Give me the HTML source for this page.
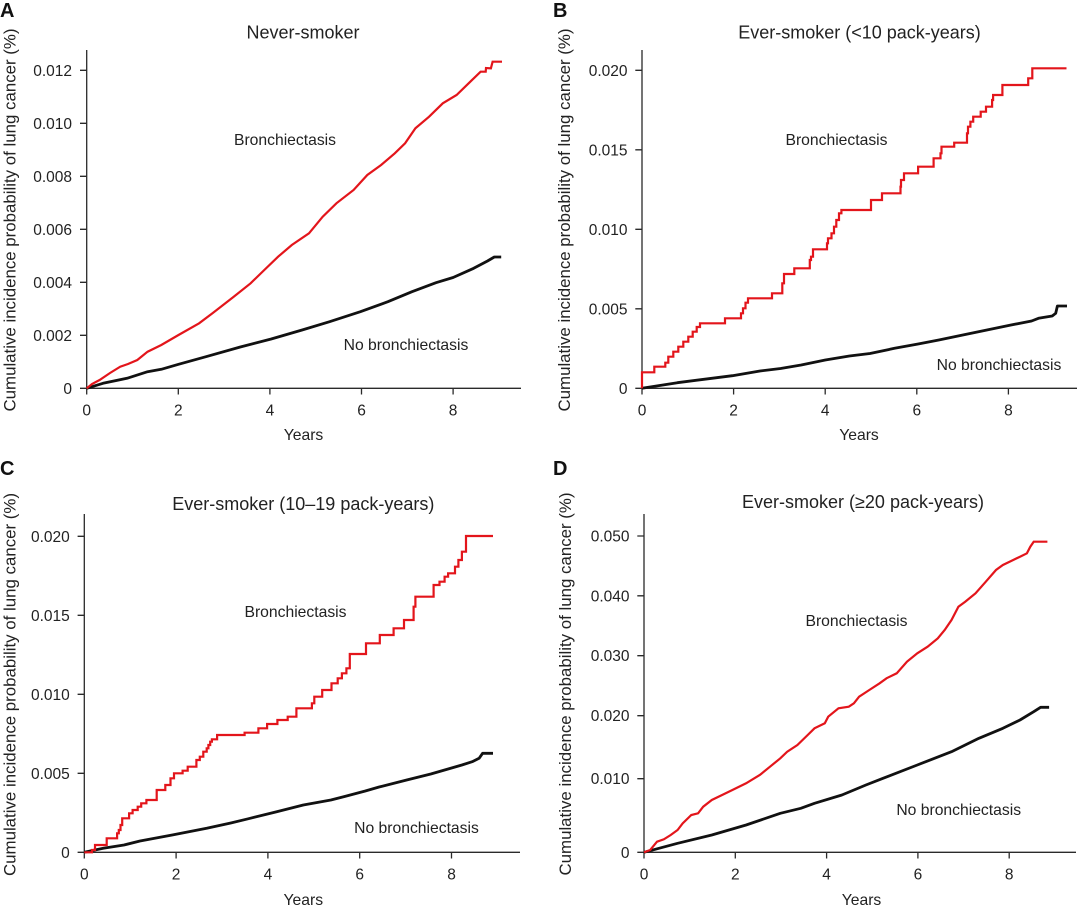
<!DOCTYPE html>
<html>
<head>
<meta charset="utf-8">
<style>
  html, body { margin: 0; padding: 0; background: #ffffff; }
  svg { display: block; }
  text { font-family: "Liberation Sans", "DejaVu Sans", sans-serif; fill: #222; }
  .tick { font-size: 15.5px; }
  .ttl { font-size: 18px; }
  .lab { font-size: 15.7px; }
  .ylab { font-size: 16.8px; }
  .pl { font-size: 20px; font-weight: bold; fill: #111; }
  .ax { stroke: #2a2a2a; stroke-width: 1.3; fill: none; }
  .red { stroke: #e3151b; stroke-width: 2.2; fill: none; stroke-linejoin: miter; }
  .blk { stroke: #111; stroke-width: 2.8; fill: none; stroke-linejoin: round; }
</style>
</head>
<body>
<svg width="1080" height="906" viewBox="0 0 1080 906" xmlns="http://www.w3.org/2000/svg">

<!-- ================= Panel A ================= -->
<text class="pl" x="0" y="17">A</text>
<text class="ttl" x="303" y="38.5" text-anchor="middle">Never-smoker</text>
<text class="ylab" transform="translate(15.5,220) rotate(-90)" text-anchor="middle" textLength="383" lengthAdjust="spacingAndGlyphs">Cumulative incidence probability of lung cancer (%)</text>
<path class="ax" d="M86.7,50 V388.3 H521"/>
<path class="ax" d="M80,388.3 H86.7 M80,335.3 H86.7 M80,282.3 H86.7 M80,229.3 H86.7 M80,176.3 H86.7 M80,123.3 H86.7 M80,70.3 H86.7"/>
<path class="ax" d="M86.7,388.3 V394.5 M178.3,388.3 V394.5 M269.9,388.3 V394.5 M361.5,388.3 V394.5 M453.1,388.3 V394.5"/>
<g class="tick" text-anchor="end">
  <text x="72" y="393.8">0</text>
  <text x="72" y="340.8">0.002</text>
  <text x="72" y="287.8">0.004</text>
  <text x="72" y="234.8">0.006</text>
  <text x="72" y="181.8">0.008</text>
  <text x="72" y="128.8">0.010</text>
  <text x="72" y="75.8">0.012</text>
</g>
<g class="tick" text-anchor="middle">
  <text x="86.7" y="415.5">0</text>
  <text x="178.3" y="415.5">2</text>
  <text x="269.9" y="415.5">4</text>
  <text x="361.5" y="415.5">6</text>
  <text x="453.1" y="415.5">8</text>
</g>
<text class="lab" x="303.5" y="440" text-anchor="middle">Years</text>
<text class="lab" x="285" y="145" text-anchor="middle">Bronchiectasis</text>
<text class="lab" x="406" y="350" text-anchor="middle">No bronchiectasis</text>
<polyline class="blk" points="86.7,388.3 103,383.3 127,378.3 147.6,371.7 161.3,369.3 178.5,364.3 206,356.7 240.3,347 271.2,339 302.1,330 329.6,321.7 360.4,311.7 387.9,301.7 412,291.7 436,282.7 453.1,277.5 473.7,268.3 487.5,261 494.3,257 501.2,257"/>
<polyline class="red" points="86.7,388.3 92,384 99.6,380 110,373 120.2,366.7 128,364 137.3,360 147.6,351.7 161.3,345 178.5,335 199.1,323.3 212.8,313 233.4,297 250.6,283.3 264.3,270 278.1,256.7 291.8,245 309,233.3 322.7,216.7 336.4,203.3 353.6,190 367.3,175 381.1,165 394.8,153.3 405.1,143.3 415.4,128.3 429.1,116.7 442.8,103.3 456.6,95 470.3,81.7 480.6,71.7 485.7,71.7 486,68 490.9,68.3 492.6,61.7 502,61.7"/>

<!-- ================= Panel B ================= -->
<text class="pl" x="553" y="17">B</text>
<text class="ttl" x="859.5" y="38.5" text-anchor="middle">Ever-smoker (&lt;10 pack-years)</text>
<text class="ylab" transform="translate(570,220) rotate(-90)" text-anchor="middle" textLength="383" lengthAdjust="spacingAndGlyphs">Cumulative incidence probability of lung cancer (%)</text>
<path class="ax" d="M642,50 V388.3 H1077"/>
<path class="ax" d="M635.3,388.3 H642 M635.3,308.8 H642 M635.3,229.3 H642 M635.3,149.8 H642 M635.3,70.3 H642"/>
<path class="ax" d="M642,388.3 V394.5 M733.6,388.3 V394.5 M825.2,388.3 V394.5 M916.8,388.3 V394.5 M1008.4,388.3 V394.5"/>
<g class="tick" text-anchor="end">
  <text x="627.5" y="393.8">0</text>
  <text x="627.5" y="314.3">0.005</text>
  <text x="627.5" y="234.8">0.010</text>
  <text x="627.5" y="155.3">0.015</text>
  <text x="627.5" y="75.8">0.020</text>
</g>
<g class="tick" text-anchor="middle">
  <text x="642" y="415.5">0</text>
  <text x="733.6" y="415.5">2</text>
  <text x="825.2" y="415.5">4</text>
  <text x="916.8" y="415.5">6</text>
  <text x="1008.4" y="415.5">8</text>
</g>
<text class="lab" x="859" y="440" text-anchor="middle">Years</text>
<text class="lab" x="836.5" y="145" text-anchor="middle">Bronchiectasis</text>
<text class="lab" x="999" y="370" text-anchor="middle">No bronchiectasis</text>
<polyline class="blk" points="642,388.3 677.4,382.7 711.8,378.3 732.4,375.7 760,371 780.6,368.5 801.2,365 825.3,360 849.4,356 870,353.5 894.6,348.3 918.1,344 938.8,340 962.8,335 986.9,330 1011,325 1031.6,321 1038.5,318.3 1052.2,316 1055.7,313.3 1057.4,306 1067,306"/>
<path class="red" d="M642,388.3 V372.3 H654.3 V366.7 H665.3 V362.7 H668.3 V356.7 H673.3 V351.7 H678.3 V346.7 H683.3 V341.7 H688.3 V336.7 H692.7 V331.7 H696.7 V327 H700 V323.3 H725 V318.3 H741 V313.3 H743 V308.3 H745.5 V302.7 H748 V298.3 H772 V293.3 H782.3 V283.3 H784 V274 H794.3 V268.3 H809.8 V260 H811 V256.7 H813 V249.3 H827 V243.3 H828 V238.3 H831.5 V233.3 H834 V226.7 H836.3 V220 H839 V213.3 H841.4 V210 H871 V200 H882 V193.3 H900.5 V186.7 H901 V180 H904 V173.3 H918.1 V166.7 H933.6 V158.3 H940.5 V153.3 H941.5 V146.7 H954.2 V142.7 H967 V133.3 H968 V126.7 H970.4 V121.7 H973.2 V116.7 H980.7 V111.7 H986 V106.7 H992.1 V100 H993.1 V95 H1002.4 V85 H1028.2 V78.3 H1032.3 V68.3 H1066.5"/>

<!-- ================= Panel C ================= -->
<text class="pl" x="0" y="475">C</text>
<text class="ttl" x="303.3" y="510" text-anchor="middle">Ever-smoker (10–19 pack-years)</text>
<text class="ylab" transform="translate(15.5,684.5) rotate(-90)" text-anchor="middle" textLength="383" lengthAdjust="spacingAndGlyphs">Cumulative incidence probability of lung cancer (%)</text>
<path class="ax" d="M84.3,514 V852.3 H520"/>
<path class="ax" d="M77.6,852.3 H84.3 M77.6,773.3 H84.3 M77.6,694.3 H84.3 M77.6,615.3 H84.3 M77.6,536.3 H84.3"/>
<path class="ax" d="M84.3,852.3 V858.5 M176.1,852.3 V858.5 M267.9,852.3 V858.5 M359.7,852.3 V858.5 M451.5,852.3 V858.5"/>
<g class="tick" text-anchor="end">
  <text x="69.8" y="857.8">0</text>
  <text x="69.8" y="778.8">0.005</text>
  <text x="69.8" y="699.8">0.010</text>
  <text x="69.8" y="620.8">0.015</text>
  <text x="69.8" y="541.8">0.020</text>
</g>
<g class="tick" text-anchor="middle">
  <text x="84.3" y="879.5">0</text>
  <text x="176.1" y="879.5">2</text>
  <text x="267.9" y="879.5">4</text>
  <text x="359.7" y="879.5">6</text>
  <text x="451.5" y="879.5">8</text>
</g>
<text class="lab" x="303.3" y="905" text-anchor="middle">Years</text>
<text class="lab" x="295.5" y="617" text-anchor="middle">Bronchiectasis</text>
<text class="lab" x="416.5" y="833" text-anchor="middle">No bronchiectasis</text>
<polyline class="blk" points="84.3,852.3 103.3,848.3 124,845 140,841 172.2,835 206.7,828.3 230.8,823 248.1,818.8 275.7,812 303.3,805 330.9,800 344.6,796.5 365.3,791 379.1,787 406.7,780 430.8,774 448.1,769 461.9,765 472.2,761.7 479.1,758.3 482.6,753.3 493,753.3"/>
<path class="red" d="M84.3,852.3 H92 V850 H95 V845 H106.7 V838.3 H117.1 V833.3 H118.8 V830 H120.5 V825 H122.2 V818.3 H129.1 V813.3 H132.6 V810 H137.7 V806.7 H141.2 V803.3 H146.4 V800 H156.7 V790 H165.3 V785 H170.5 V778.3 H174 V773.3 H182.6 V770.7 H187.7 V766.7 H196.4 V760 H199.8 V756.7 H203.3 V751.7 H206.7 V748.3 H208.4 V745 H210.2 V741.7 H211.9 V739.3 H217.1 V735 H244.6 V732.7 H258.4 V728.3 H267.1 V724 H277.4 V720 H287.7 V716.7 H296.4 V708.3 H311.9 V703.3 H314.3 V696.7 H322.2 V690 H331.5 V683.3 H337.7 V678.3 H341.9 V673.3 H346.4 V668.3 H349.8 V654 H366 V643.3 H379.8 V635 H393.6 V628.3 H404 V620 H413.6 V606.7 H415.4 V596.7 H433.6 V585 H439.5 V581.7 H444.6 V576.7 H448.1 V573.3 H455 V566.7 H458.4 V560 H461.9 V551.7 H466 V536 H493"/>

<!-- ================= Panel D ================= -->
<text class="pl" x="553" y="475">D</text>
<text class="ttl" x="863" y="508" text-anchor="middle">Ever-smoker (≥20 pack-years)</text>
<text class="ylab" transform="translate(571,684) rotate(-90)" text-anchor="middle" textLength="383" lengthAdjust="spacingAndGlyphs">Cumulative incidence probability of lung cancer (%)</text>
<path class="ax" d="M644,514 V852.3 H1076"/>
<path class="ax" d="M637.3,852.3 H644 M637.3,778.7 H644 M637.3,715.7 H644 M637.3,655.7 H644 M637.3,595.8 H644 M637.3,536 H644"/>
<path class="ax" d="M644,852.3 V858.5 M735.3,852.3 V858.5 M826.6,852.3 V858.5 M917.9,852.3 V858.5 M1009.2,852.3 V858.5"/>
<g class="tick" text-anchor="end">
  <text x="629.5" y="857.8">0</text>
  <text x="629.5" y="784.2">0.010</text>
  <text x="629.5" y="721.2">0.020</text>
  <text x="629.5" y="661.2">0.030</text>
  <text x="629.5" y="601.3">0.040</text>
  <text x="629.5" y="541.5">0.050</text>
</g>
<g class="tick" text-anchor="middle">
  <text x="644" y="879.5">0</text>
  <text x="735.3" y="879.5">2</text>
  <text x="826.6" y="879.5">4</text>
  <text x="917.9" y="879.5">6</text>
  <text x="1009.2" y="879.5">8</text>
</g>
<text class="lab" x="861.5" y="905" text-anchor="middle">Years</text>
<text class="lab" x="856.5" y="626" text-anchor="middle">Bronchiectasis</text>
<text class="lab" x="958.7" y="815" text-anchor="middle">No bronchiectasis</text>
<polyline class="blk" points="644,852.3 677.6,843.3 711.8,835 746.1,825 780.3,813.3 800.8,808.3 814.5,803.3 841.9,795 865.9,785 883,778.3 917.3,765 951.5,751.7 978.9,738.3 1002.9,728.3 1020,720 1033.7,711.7 1040.6,707.3 1049.1,707.3"/>
<polyline class="red" points="644,852.3 650.2,850 657,841.7 663.9,839.3 670.7,835 677.6,830 682.7,823.3 691.3,815 698.1,813.3 703.2,806.7 711.8,800 722.1,795 732.4,790 746.1,783.3 759.8,775 770,766.7 780.3,758.3 787.2,751.7 797.4,745 807.7,735 814.5,728.3 824.8,723.3 828.2,716.7 838.5,708.3 848.8,706.7 853.9,703.3 859.1,696.7 869.3,690 879.6,683.3 886.5,678.3 896.7,673.3 907,661.7 917.3,653.3 927.6,646.7 937.8,638.3 944.7,630 951.5,620 958.4,606.7 965.2,601.7 975.5,593.3 985.8,581.7 996,570 1002.9,565 1013.2,560 1020,556.7 1026.9,553.3 1030.3,546.7 1033.7,541.7 1047.4,541.7"/>

</svg>
</body>
</html>
